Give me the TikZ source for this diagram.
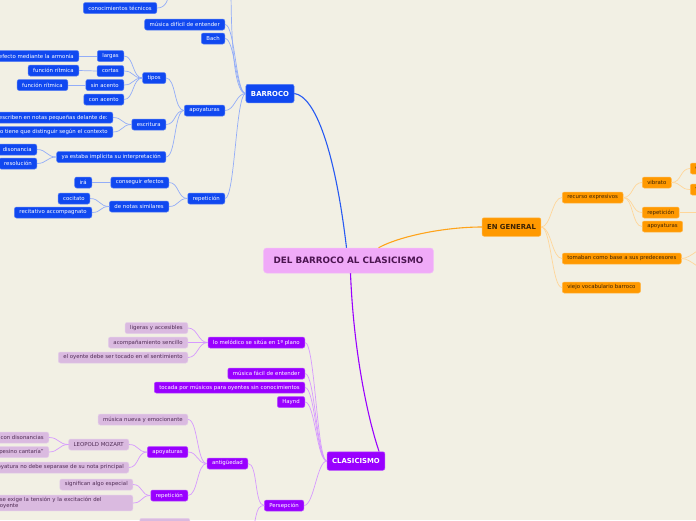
\documentclass[tikz,border=0pt]{standalone}
\usepackage{fontspec}
\setmainfont{DejaVu Sans}
\usepackage{tikz}
\definecolor{fondo}{RGB}{242,240,228}
\definecolor{barrocoazul}{RGB}{16,72,240}
\definecolor{generalnaranja}{RGB}{255,153,0}
\definecolor{clasicomorado}{RGB}{153,0,255}
\definecolor{lilaclaro}{RGB}{218,186,224}
\definecolor{raizrosa}{RGB}{240,170,248}
\definecolor{textocafe}{RGB}{60,35,5}
\definecolor{textolila}{RGB}{80,45,85}
\definecolor{textoraiz}{RGB}{75,20,80}

\begin{document}
\begin{tikzpicture}[
  x=1pt, y=-1pt,
  every node/.style={font=\fontsize{5.4}{6.4}\selectfont, rounded corners=2pt,
    inner xsep=5pt, inner ysep=1pt, minimum height=11pt, line width=0.5pt},
  azul/.style={draw=barrocoazul!70!white, fill=barrocoazul, text=white},
  naranja/.style={draw=generalnaranja!70!white, fill=generalnaranja, text=textocafe},
  morado/.style={draw=clasicomorado!70!white, fill=clasicomorado, text=white},
  lila/.style={draw=lilaclaro!70!white, fill=lilaclaro, text=textolila},
  seccion/.style={font=\bfseries\fontsize{6.9}{8}\selectfont, minimum height=18.5pt},
  raiz/.style={draw=raizrosa!80!white, fill=raizrosa, text=textoraiz,
    font=\bfseries\fontsize{8.8}{10}\selectfont, inner xsep=10pt,
    minimum height=25pt, rounded corners=3pt},
  izq/.style={to path={.. controls +(-10,0) and +(10,0) .. (\tikztotarget) \tikztonodes}},
  der/.style={to path={.. controls +(10,0) and +(-10,0) .. (\tikztotarget) \tikztonodes}},
  enlaceazul/.style={draw=barrocoazul!45!white, line width=0.7pt},
  enlacenaranja/.style={draw=generalnaranja!40!white, line width=0.7pt},
  enlacemorado/.style={draw=clasicomorado!40!white, line width=0.7pt},
  troncoazul/.style={draw=barrocoazul!90!white, line width=1.1pt},
  tronconaranja/.style={draw=generalnaranja!90!white, line width=1.1pt},
  troncomorado/.style={draw=clasicomorado, line width=1.1pt}
]
  \useasboundingbox (0,0) rectangle (696,520);
  \fill[fondo] (0,0) rectangle (696,520);
  \clip (0,0) rectangle (696,520);

  % Nodo central y ramas principales
  \node[raiz] (raiz) at (348.5,260.5) {DEL BARROCO AL CLASICISMO};
  \node[azul, seccion] (barroco) at (270,93.5) {BARROCO};
  \node[naranja, seccion] (general) at (511.5,227) {EN GENERAL};
  \node[morado, seccion] (clasicismo) at (356,461) {CLASICISMO};

  % Barroco
  \node[azul, anchor=east] (conocimientos) at (157,8) {conocimientos técnicos};
  \node[azul, anchor=east] (dificil) at (225,24.5) {música difícil de entender};
  \node[azul, anchor=east] (bach) at (225,38.5) {Bach};
  \node[azul, anchor=east] (apoyaturasb) at (225,110.5) {apoyaturas};
  \node[azul, anchor=east] (repeticionb) at (225,198.5) {repetición};
  \node[azul, anchor=east] (tipos) at (166,78) {tipos};
  \node[azul, anchor=east] (escritura) at (166,124.5) {escritura};
  \node[azul, anchor=east] (implicita) at (166,157) {ya estaba implícita su interpretación};
  \node[azul, anchor=east] (largas) at (124,56) {largas};
  \node[azul, anchor=east] (cortas) at (124,71) {cortas};
  \node[azul, anchor=east] (sinacento) at (124,85) {sin acento};
  \node[azul, anchor=east] (conacento) at (124,99.5) {con acento};
  \node[azul, anchor=east] (armonia) at (79,56) {efecto mediante la armonía};
  \node[azul, anchor=east] (ritmicaa) at (79,70.5) {función rítmica};
  \node[azul, anchor=east] (ritmicab) at (68,85) {función rítmica};
  \node[azul, anchor=east] (pequenas) at (113,117.5) {se escriben en notas pequeñas delante de:};
  \node[azul, anchor=east] (contexto) at (113,132) {lo tiene que distinguir según el contexto};
  \node[azul, anchor=east] (disonancia) at (37,149.5) {disonancia};
  \node[azul, anchor=east] (resolucion) at (37,163.5) {resolución};
  \node[azul, anchor=east] (efectos) at (169,182.5) {conseguir efectos};
  \node[azul, anchor=east] (similares) at (169,206.5) {de notas similares};
  \node[azul, anchor=east] (ira) at (92,182.5) {irá};
  \node[azul, anchor=east] (cocitato) at (90,198.5) {cocitato};
  \node[azul, anchor=east] (recitativo) at (92,212.5) {recitativo accompagnato};
  \coordinate (fueraarriba) at (231,-15);
  \coordinate (fueraconoc) at (170,-15);

  % En general
  \node[naranja, anchor=west] (recurso) at (562,197.5) {recurso expresivos};
  \node[naranja, anchor=west] (predecesores) at (562,258.5) {tomaban como base a sus predecesores};
  \node[naranja, anchor=west] (vocabulario) at (562,287.5) {viejo vocabulario barroco};
  \node[naranja, anchor=west] (vibrato) at (642,182.5) {vibrato};
  \node[naranja, anchor=west] (repeticionn) at (642,212.5) {repetición};
  \node[naranja, anchor=west] (apoyaturasn) at (642,226.5) {apoyaturas};
  \node[naranja, anchor=west, text width=20pt] (vibratoa) at (690,168.5) {e};
  \node[naranja, anchor=west, text width=20pt] (vibratob) at (690,189.5) {v};
  \coordinate (fuerarepe) at (710,212.5);
  \coordinate (fuerapreda) at (712,244);
  \coordinate (fuerapredb) at (712,273);

  % Clasicismo
  \node[morado, anchor=east] (melodico) at (305,342.5) {lo melódico se sitúa en 1º plano};
  \node[morado, anchor=east] (facil) at (305,373.5) {música fácil de entender};
  \node[morado, anchor=east] (tocada) at (305,387.5) {tocada por músicos para oyentes sin conocimientos};
  \node[morado, anchor=east] (haynd) at (305,402) {Haynd};
  \node[morado, anchor=east] (persepcion) at (304,505.5) {Persepción};
  \node[morado, anchor=east] (antiguedad) at (248,463.5) {antigüedad};
  \node[lila, anchor=east] (ligeras) at (188,328) {ligeras y accesibles};
  \node[lila, anchor=east] (sencillo) at (188,342.5) {acompañamiento sencillo};
  \node[lila, anchor=east] (sentimiento) at (188,357.5) {el oyente debe ser tocado en el sentimiento};
  \node[lila, anchor=east] (emocionante) at (188,419.5) {música nueva y emocionante};
  \node[morado, anchor=east] (apoyaturasm) at (188,452) {apoyaturas};
  \node[morado, anchor=east] (repeticionm) at (188,495.5) {repetición};
  \node[lila, anchor=east] (mozart) at (129,444.5) {LEOPOLD MOZART};
  \node[lila, anchor=east] (principal) at (129,467.5) {la apoyatura no debe separase de su nota principal};
  \node[lila, anchor=east] (disonancias) at (49,437.5) {con disonancias};
  \node[lila, anchor=east] (campesino) at (49,452) {campesino cantaría"};
  \node[lila, anchor=east] (especial) at (133,484.5) {significan algo especial};
  \node[lila, anchor=east, text width=128pt, align=left, inner ysep=2pt] (tension) at (133,503)
    {se exige la tensión y la excitación del\\oyente};
  \node[lila, anchor=north east, minimum width=50pt] (abajo) at (190,518) {};
  \coordinate (fueraabajo) at (248,545);

  % Troncos desde el nodo central
  \draw[troncoazul] ([xshift=-2pt]raiz.north) .. controls (335,150) and (315,96) .. (barroco.east);
  \draw[tronconaranja] ([xshift=30pt]raiz.north) .. controls (400,236) and (445,227) .. (general.west);
  \draw[troncomorado] ([xshift=2pt]raiz.south) .. controls (354,360) and (370,425) .. ([xshift=-6pt]clasicismo.north east);

  % Enlaces del barroco
  \draw[enlaceazul] (barroco.west) .. controls (233,94) and (231,30) .. (fueraarriba);
  \draw[enlaceazul] (conocimientos.east) .. controls (166,8) and (169,0) .. (fueraconoc);
  \draw[enlaceazul] (barroco.west) to[izq] (dificil.east);
  \draw[enlaceazul] (barroco.west) to[izq] (bach.east);
  \draw[enlaceazul] (barroco.west) to[izq] (apoyaturasb.east);
  \draw[enlaceazul] (barroco.west) to[izq] (repeticionb.east);
  \draw[enlaceazul] (apoyaturasb.west) to[izq] (tipos.east);
  \draw[enlaceazul] (apoyaturasb.west) to[izq] (escritura.east);
  \draw[enlaceazul] (apoyaturasb.west) to[izq] (implicita.east);
  \draw[enlaceazul] (tipos.west) to[izq] (largas.east);
  \draw[enlaceazul] (tipos.west) to[izq] (cortas.east);
  \draw[enlaceazul] (tipos.west) to[izq] (sinacento.east);
  \draw[enlaceazul] (tipos.west) to[izq] (conacento.east);
  \draw[enlaceazul] (largas.west) -- (armonia.east);
  \draw[enlaceazul] (cortas.west) -- (ritmicaa.east);
  \draw[enlaceazul] (sinacento.west) -- (ritmicab.east);
  \draw[enlaceazul] (escritura.west) to[izq] (pequenas.east);
  \draw[enlaceazul] (escritura.west) to[izq] (contexto.east);
  \draw[enlaceazul] (implicita.west) to[izq] (disonancia.east);
  \draw[enlaceazul] (implicita.west) to[izq] (resolucion.east);
  \draw[enlaceazul] (repeticionb.west) to[izq] (efectos.east);
  \draw[enlaceazul] (repeticionb.west) to[izq] (similares.east);
  \draw[enlaceazul] (efectos.west) -- (ira.east);
  \draw[enlaceazul] (similares.west) to[izq] (cocitato.east);
  \draw[enlaceazul] (similares.west) to[izq] (recitativo.east);

  % Enlaces de en general
  \draw[enlacenaranja] (general.east) to[der] (recurso.west);
  \draw[enlacenaranja] (general.east) to[der] (predecesores.west);
  \draw[enlacenaranja] (general.east) to[der] (vocabulario.west);
  \draw[enlacenaranja] (recurso.east) to[der] (vibrato.west);
  \draw[enlacenaranja] (recurso.east) to[der] (repeticionn.west);
  \draw[enlacenaranja] (recurso.east) to[der] (apoyaturasn.west);
  \draw[enlacenaranja] (vibrato.east) to[der] (vibratoa.west);
  \draw[enlacenaranja] (vibrato.east) to[der] (vibratob.west);
  \draw[enlacenaranja] (repeticionn.east) -- (fuerarepe);
  \draw[enlacenaranja] (predecesores.east) to[der] (fuerapreda);
  \draw[enlacenaranja] (predecesores.east) to[der] (fuerapredb);

  % Enlaces del clasicismo
  \draw[enlacemorado] (clasicismo.west) to[izq] (melodico.east);
  \draw[enlacemorado] (clasicismo.west) to[izq] (facil.east);
  \draw[enlacemorado] (clasicismo.west) to[izq] (tocada.east);
  \draw[enlacemorado] (clasicismo.west) to[izq] (haynd.east);
  \draw[enlacemorado] (clasicismo.west) to[izq] (persepcion.east);
  \draw[enlacemorado] (melodico.west) to[izq] (ligeras.east);
  \draw[enlacemorado] (melodico.west) to[izq] (sencillo.east);
  \draw[enlacemorado] (melodico.west) to[izq] (sentimiento.east);
  \draw[enlacemorado] (persepcion.west) to[izq] (antiguedad.east);
  \draw[enlacemorado] (persepcion.west) .. controls (254,505.5) and (258,520) .. (fueraabajo);
  \draw[enlacemorado] (antiguedad.west) to[izq] (emocionante.east);
  \draw[enlacemorado] (antiguedad.west) to[izq] (apoyaturasm.east);
  \draw[enlacemorado] (antiguedad.west) to[izq] (repeticionm.east);
  \draw[enlacemorado] (apoyaturasm.west) to[izq] (mozart.east);
  \draw[enlacemorado] (apoyaturasm.west) to[izq] (principal.east);
  \draw[enlacemorado] (mozart.west) to[izq] (disonancias.east);
  \draw[enlacemorado] (mozart.west) to[izq] (campesino.east);
  \draw[enlacemorado] (repeticionm.west) to[izq] (especial.east);
  \draw[enlacemorado] (repeticionm.west) to[izq] (tension.east);

\end{tikzpicture}
\end{document}
